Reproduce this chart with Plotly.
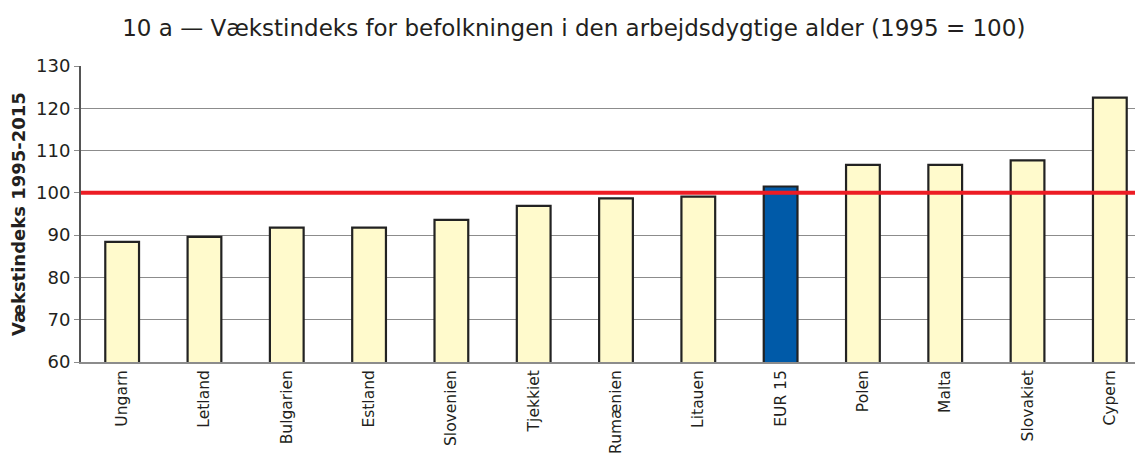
import plotly.graph_objects as go

BAR_FILL = '#fffacc'
EUR_FILL = '#005aa8'
RED      = '#ec1c24'
GRID_CLR = '#8c8c8c'
TEXT_CLR = '#231f20'
FONT     = 'DejaVu Sans'

countries = ['Ungarn', 'Letland', 'Bulgarien', 'Estland', 'Slovenien', 'Tjekkiet',
             'Rumænien', 'Litauen', 'EUR 15', 'Polen', 'Malta', 'Slovakiet', 'Cypern']
index_2015 = [88.4, 89.6, 91.8, 91.8, 93.6, 96.9, 98.7, 99.1, 101.5, 106.6, 106.6, 107.7, 122.5]
y_ticks = [60, 70, 80, 90, 100, 110, 120, 130]

colors = [EUR_FILL if c == 'EUR 15' else BAR_FILL for c in countries]

fig = go.Figure()
fig.add_trace(go.Bar(
    x=list(range(len(countries))), y=index_2015,
    marker=dict(color=colors, line=dict(color='#222222', width=2.2)),
    width=0.41, hoverinfo='y'
))

# reference line at index 100
fig.add_hline(y=100, line_color=RED, line_width=4, layer='above')

fig.update_layout(
    width=1143, height=458,
    margin=dict(l=73, r=0, t=58, b=104),
    paper_bgcolor='white', plot_bgcolor='white',
    showlegend=False,
    title=dict(text='10 a — Vækstindeks for befolkningen i den arbejdsdygtige alder (1995 = 100)',
               x=0.495, xanchor='center', y=0.956, yanchor='middle',
               font=dict(family=FONT, size=23, color=TEXT_CLR)),
    font=dict(family=FONT, color=TEXT_CLR),
)
fig.update_xaxes(
    range=[-0.5, 12.5], tickvals=list(range(len(countries))), ticktext=countries,
    tickangle=-90, tickfont=dict(size=15.5), showgrid=False, automargin=False,
    showline=True, linecolor=GRID_CLR, linewidth=2, ticks=''
)
fig.update_yaxes(
    range=[60, 130], tickvals=y_ticks, tickfont=dict(size=18),
    showgrid=True, gridcolor=GRID_CLR, gridwidth=1.3, automargin=False,
    showline=True, linecolor='#555555', linewidth=2,
    ticks='outside', ticklen=5, tickcolor=GRID_CLR, zeroline=False,
    title=dict(text='<b>Vækstindeks 1995-2015</b>', font=dict(size=18), standoff=10)
)

fig.write_html("out.html")
